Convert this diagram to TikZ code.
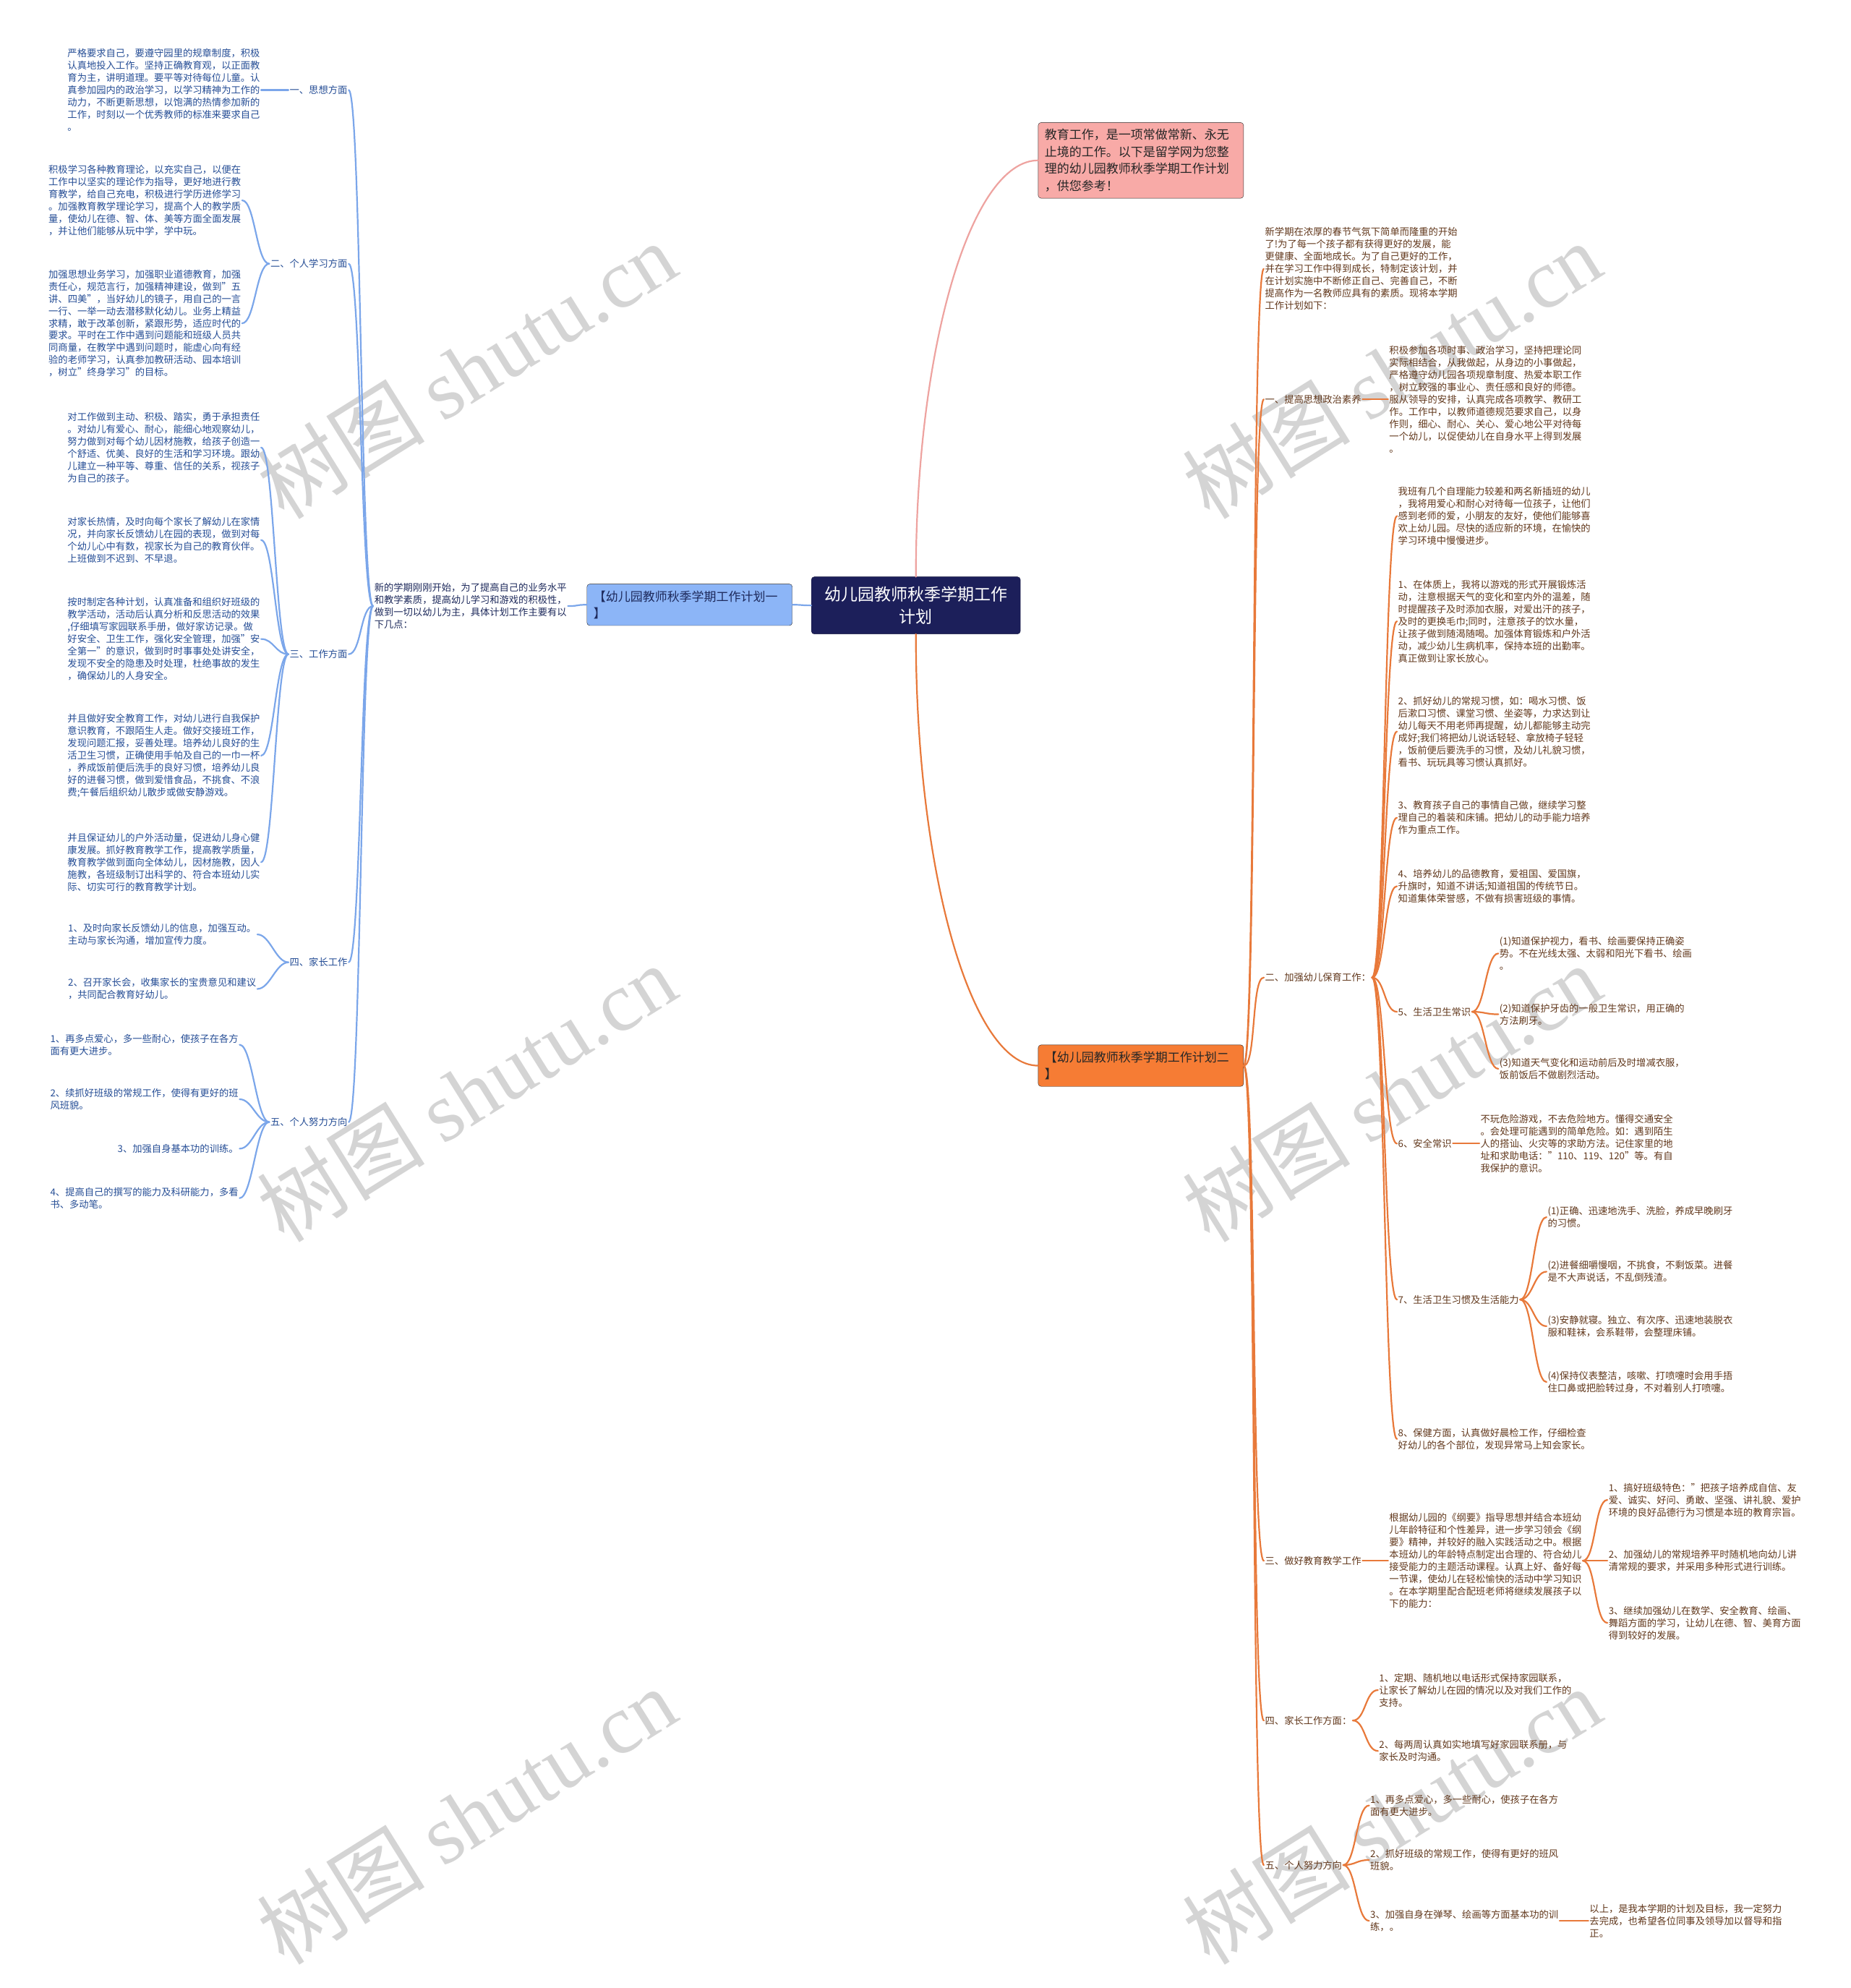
\documentclass[tikz,border=0pt]{standalone}
\usepackage{fontspec}
\setmainfont{Noto Sans CJK SC}
\newfontfamily\wmfont{Liberation Serif}
\definecolor{titlebg}{RGB}{28,31,90}
\definecolor{lboxbg}{RGB}{140,181,247}
\definecolor{lline}{RGB}{123,166,234}
\definecolor{ltext}{RGB}{38,78,150}
\definecolor{midtext}{RGB}{30,42,92}
\definecolor{pboxbg}{RGB}{248,170,167}
\definecolor{pline}{RGB}{238,163,160}
\definecolor{oboxbg}{RGB}{246,124,52}
\definecolor{oline}{RGB}{232,121,58}
\definecolor{rtext}{RGB}{98,56,28}
\definecolor{wmgray}{RGB}{212,212,212}

\begin{document}
\begin{tikzpicture}[x=1.7534pt, y=-1.7534pt, line cap=round,
    txt/.style={font=\fontsize{13.3}{17}\selectfont, align=left, inner sep=1.5pt},
    ln/.style={txt, anchor=east, text=ltext},
    rn/.style={txt, anchor=west, text=rtext},
    title/.style={fill=titlebg, draw=titlebg!70!black, rounded corners=4pt, text=white, align=center,
        font=\fontsize{23}{31}\selectfont, minimum width=289pt, minimum height=79pt},
    box/.style={draw=black!85, rounded corners=4pt, align=left, text width=266pt, inner sep=9pt,
        font=\fontsize{17}{23.5}\selectfont},
    llink/.style={draw=lline, line width=2.2pt, to path={.. controls +(-10,0) and +(10,0) .. (\tikztotarget)}},
    rlink/.style={draw=oline, line width=2.2pt, to path={.. controls +(10,0) and +(-10,0) .. (\tikztotarget)}},
    wm/.style={text=wmgray, rotate=32, font=\fontsize{116}{116}\selectfont}]

    \fill[white] (0,0) rectangle (1460,1568);
    \useasboundingbox (0,0) rectangle (1460,1568);

    \foreach \wx in {368,1098} {
        \foreach \wy in {292,862,1432} {
            \node[wm] at (\wx,\wy) {树图 {\wmfont shutu.cn}};
        }
    }

            \node[title] (t) at (722.5,477.5) {幼儿园教师秋季学期工作\\计划};
            \node[box, fill=lboxbg, text=midtext] (lb) at (544,477) {【幼儿园教师秋季学期工作计划一\\】};
            \node[box, fill=pboxbg, text=black!85, text width=266pt] (pk) at (900,126.5) {教育工作，是一项常做常新、永无\\止境的工作。以下是留学网为您整\\理的幼儿园教师秋季学期工作计划\\，供您参考！};
            \node[box, fill=oboxbg, text=black!85] (ob) at (900,840.5) {【幼儿园教师秋季学期工作计划二\\】};

            \node[ln, text=midtext] (mid) at (448,478) {新的学期刚刚开始，为了提高自己的业务水平\\和教学素质，提高幼儿学习和游戏的积极性，\\做到一切以幼儿为主，具体计划工作主要有以\\下几点：};

            \node[ln] (l1) at (275,71) {一、思想方面};
            \node[ln] (l2) at (275,208) {二、个人学习方面};
            \node[ln] (l3) at (275,516) {三、工作方面};
            \node[ln] (l4) at (275,759) {四、家长工作};
            \node[ln] (l5) at (275,885) {五、个人努力方向};

            \node[ln] (l1a) at (206,71) {严格要求自己，要遵守园里的规章制度，积极\\认真地投入工作。坚持正确教育观，以正面教\\育为主，讲明道理。要平等对待每位儿童。认\\真参加园内的政治学习，以学习精神为工作的\\动力，不断更新思想，以饱满的热情参加新的\\工作，时刻以一个优秀教师的标准来要求自己\\。};
            \node[ln] (l2a) at (191,158) {积极学习各种教育理论，以充实自己，以便在\\工作中以坚实的理论作为指导，更好地进行教\\育教学，给自己充电，积极进行学历进修学习\\。加强教育教学理论学习，提高个人的教学质\\量，使幼儿在德、智、体、美等方面全面发展\\，并让他们能够从玩中学，学中玩。};
            \node[ln] (l2b) at (191,255) {加强思想业务学习，加强职业道德教育，加强\\责任心，规范言行，加强精神建设，做到"五\\讲、四美"，当好幼儿的镜子，用自己的一言\\一行、一举一动去潜移默化幼儿。业务上精益\\求精，敢于改革创新，紧跟形势，适应时代的\\要求。平时在工作中遇到问题能和班级人员共\\同商量，在教学中遇到问题时，能虚心向有经\\验的老师学习，认真参加教研活动、园本培训\\，树立"终身学习"的目标。};
            \node[ln] (l3a) at (206,353) {对工作做到主动、积极、踏实，勇于承担责任\\。对幼儿有爱心、耐心，能细心地观察幼儿，\\努力做到对每个幼儿因材施教，给孩子创造一\\个舒适、优美、良好的生活和学习环境。跟幼\\儿建立一种平等、尊重、信任的关系，视孩子\\为自己的孩子。};
            \node[ln] (l3b) at (206,426) {对家长热情，及时向每个家长了解幼儿在家情\\况，并向家长反馈幼儿在园的表现，做到对每\\个幼儿心中有数，视家长为自己的教育伙伴。\\上班做到不迟到、不早退。};
            \node[ln] (l3c) at (206,504) {按时制定各种计划，认真准备和组织好班级的\\教学活动，活动后认真分析和反思活动的效果\\,仔细填写家园联系手册，做好家访记录。做\\好安全、卫生工作，强化安全管理，加强"安\\全第一"的意识，做到时时事事处处讲安全，\\发现不安全的隐患及时处理，杜绝事故的发生\\，确保幼儿的人身安全。};
            \node[ln] (l3d) at (206,596) {并且做好安全教育工作，对幼儿进行自我保护\\意识教育，不跟陌生人走。做好交接班工作，\\发现问题汇报，妥善处理。培养幼儿良好的生\\活卫生习惯，正确使用手帕及自己的一巾一杯\\，养成饭前便后洗手的良好习惯，培养幼儿良\\好的进餐习惯，做到爱惜食品，不挑食、不浪\\费;午餐后组织幼儿散步或做安静游戏。};
            \node[ln] (l3e) at (206,680) {并且保证幼儿的户外活动量，促进幼儿身心健\\康发展。抓好教育教学工作，提高教学质量，\\教育教学做到面向全体幼儿，因材施教，因人\\施教，各班级制订出科学的、符合本班幼儿实\\际、切实可行的教育教学计划。};
            \node[ln] (l4a) at (203,737) {1、及时向家长反馈幼儿的信息，加强互动。\\主动与家长沟通，增加宣传力度。};
            \node[ln] (l4b) at (203,780) {2、召开家长会，收集家长的宝贵意见和建议\\，共同配合教育好幼儿。};
            \node[ln] (l5a) at (189,824) {1、再多点爱心，多一些耐心，使孩子在各方\\面有更大进步。};
            \node[ln] (l5b) at (189,867) {2、续抓好班级的常规工作，使得有更好的班\\风班貌。};
            \node[ln] (l5c) at (189,906) {3、加强自身基本功的训练。};
            \node[ln] (l5d) at (189,945) {4、提高自己的撰写的能力及科研能力，多看\\书、多动笔。};

            \node[rn] (r0) at (997,212) {新学期在浓厚的春节气氛下简单而隆重的开始\\了!为了每一个孩子都有获得更好的发展，能\\更健康、全面地成长。为了自己更好的工作，\\并在学习工作中得到成长，特制定该计划，并\\在计划实施中不断修正自己、完善自己，不断\\提高作为一名教师应具有的素质。现将本学期\\工作计划如下：};
            \node[rn] (r1) at (997,315) {一、提高思想政治素养};
            \node[rn] (r1a) at (1095,315) {积极参加各项时事、政治学习，坚持把理论同\\实际相结合，从我做起，从身边的小事做起，\\严格遵守幼儿园各项规章制度、热爱本职工作\\，树立较强的事业心、责任感和良好的师德。\\服从领导的安排，认真完成各项教学、教研工\\作。工作中，以教师道德规范要求自己，以身\\作则，细心、耐心、关心、爱心地公平对待每\\一个幼儿，以促使幼儿在自身水平上得到发展\\。};
            \node[rn] (r2) at (997,771) {二、加强幼儿保育工作：};
            \node[rn] (r2a) at (1102,407) {我班有几个自理能力较差和两名新插班的幼儿\\，我将用爱心和耐心对待每一位孩子，让他们\\感到老师的爱，小朋友的友好，使他们能够喜\\欢上幼儿园。尽快的适应新的环境，在愉快的\\学习环境中慢慢进步。};
            \node[rn] (r2b) at (1102,490) {1、在体质上，我将以游戏的形式开展锻炼活\\动，注意根据天气的变化和室内外的温差，随\\时提醒孩子及时添加衣服，对爱出汗的孩子，\\及时的更换毛巾;同时，注意孩子的饮水量，\\让孩子做到随渴随喝。加强体育锻炼和户外活\\动，减少幼儿生病机率，保持本班的出勤率。\\真正做到让家长放心。};
            \node[rn] (r2c) at (1102,577) {2、抓好幼儿的常规习惯，如：喝水习惯、饭\\后漱口习惯、课堂习惯、坐姿等，力求达到让\\幼儿每天不用老师再提醒，幼儿都能够主动完\\成好;我们将把幼儿说话轻轻、拿放椅子轻轻\\，饭前便后要洗手的习惯，及幼儿礼貌习惯，\\看书、玩玩具等习惯认真抓好。};
            \node[rn] (r2d) at (1102,645) {3、教育孩子自己的事情自己做，继续学习整\\理自己的着装和床铺。把幼儿的动手能力培养\\作为重点工作。};
            \node[rn] (r2e) at (1102,699) {4、培养幼儿的品德教育，爱祖国、爱国旗，\\升旗时，知道不讲话;知道祖国的传统节日。\\知道集体荣誉感，不做有损害班级的事情。};
            \node[rn] (r2f) at (1102,798) {5、生活卫生常识};
            \node[rn] (f1) at (1182,752) {(1)知道保护视力，看书、绘画要保持正确姿\\势。不在光线太强、太弱和阳光下看书、绘画\\。};
            \node[rn] (f2) at (1182,800) {(2)知道保护牙齿的一般卫生常识，用正确的\\方法刷牙。};
            \node[rn] (f3) at (1182,843) {(3)知道天气变化和运动前后及时增减衣服，\\饭前饭后不做剧烈活动。};
            \node[rn] (r2g) at (1102,902) {6、安全常识};
            \node[rn] (g1) at (1167,902) {不玩危险游戏，不去危险地方。懂得交通安全\\。会处理可能遇到的简单危险。如：遇到陌生\\人的搭讪、火灾等的求助方法。记住家里的地\\址和求助电话："110、119、120"等。有自\\我保护的意识。};
            \node[rn] (r2h) at (1102,1025) {7、生活卫生习惯及生活能力};
            \node[rn] (h1) at (1220,960) {(1)正确、迅速地洗手、洗脸，养成早晚刷牙\\的习惯。};
            \node[rn] (h2) at (1220,1003) {(2)进餐细嚼慢咽，不挑食，不剩饭菜。进餐\\是不大声说话，不乱倒残渣。};
            \node[rn] (h3) at (1220,1046) {(3)安静就寝。独立、有次序、迅速地装脱衣\\服和鞋袜，会系鞋带，会整理床铺。};
            \node[rn] (h4) at (1220,1090) {(4)保持仪表整洁，咳嗽、打喷嚏时会用手捂\\住口鼻或把脸转过身，不对着别人打喷嚏。};
            \node[rn] (r2i) at (1102,1135) {8、保健方面，认真做好晨检工作，仔细检查\\好幼儿的各个部位，发现异常马上知会家长。};
            \node[rn] (r3) at (997,1231) {三、做好教育教学工作};
            \node[rn] (r3a) at (1095,1231) {根据幼儿园的《纲要》指导思想并结合本班幼\\儿年龄特征和个性差异，进一步学习领会《纲\\要》精神，并较好的融入实践活动之中。根据\\本班幼儿的年龄特点制定出合理的、符合幼儿\\接受能力的主题活动课程。认真上好、备好每\\一节课，使幼儿在轻松愉快的活动中学习知识\\。在本学期里配合配班老师将继续发展孩子以\\下的能力：};
            \node[rn] (s1) at (1268,1183) {1、搞好班级特色："把孩子培养成自信、友\\爱、诚实、好问、勇敢、坚强、讲礼貌、爱护\\环境的良好品德行为习惯是本班的教育宗旨。};
            \node[rn] (s2) at (1268,1231) {2、加强幼儿的常规培养平时随机地向幼儿讲\\清常规的要求，并采用多种形式进行训练。};
            \node[rn] (s3) at (1268,1280) {3、继续加强幼儿在数学、安全教育、绘画、\\舞蹈方面的学习，让幼儿在德、智、美育方面\\得到较好的发展。};
            \node[rn] (r4) at (997,1357) {四、家长工作方面：};
            \node[rn] (r4a) at (1087,1333) {1、定期、随机地以电话形式保持家园联系，\\让家长了解幼儿在园的情况以及对我们工作的\\支持。};
            \node[rn] (r4b) at (1087,1381) {2、每两周认真如实地填写好家园联系册，与\\家长及时沟通。};
            \node[rn] (r5) at (997,1471) {五、个人努力方向};
            \node[rn] (r5a) at (1080,1424) {1、再多点爱心，多一些耐心，使孩子在各方\\面有更大进步。};
            \node[rn] (r5b) at (1080,1467) {2、抓好班级的常规工作，使得有更好的班风\\班貌。};
            \node[rn] (r5c) at (1080,1515) {3、加强自身在弹琴、绘画等方面基本功的训\\练，。};
            \node[rn] (r6) at (1253,1515) {以上，是我本学期的计划及目标，我一定努力\\去完成，也希望各位同事及领导加以督导和指\\正。};

            \path
                (t.west) edge[llink] (lb.east)
                (lb.west) edge[llink] (mid.east)
                (mid.west) edge[llink] (l1.east)
                (mid.west) edge[llink] (l2.east)
                (mid.west) edge[llink] (l3.east)
                (mid.west) edge[llink] (l4.east)
                (mid.west) edge[llink] (l5.east)
                (l1.west) edge[llink] (l1a.east)
                (l2.west) edge[llink] (l2a.east)
                (l2.west) edge[llink] (l2b.east)
                (l3.west) edge[llink] (l3a.east)
                (l3.west) edge[llink] (l3b.east)
                (l3.west) edge[llink] (l3c.east)
                (l3.west) edge[llink] (l3d.east)
                (l3.west) edge[llink] (l3e.east)
                (l4.west) edge[llink] (l4a.east)
                (l4.west) edge[llink] (l4b.east)
                (l5.west) edge[llink] (l5a.east)
                (l5.west) edge[llink] (l5b.east)
                (l5.west) edge[llink] (l5c.east)
                (l5.west) edge[llink] (l5d.east)
                ;

            \path
                (t.north) edge[draw=pline, line width=2.2pt, to path={.. controls +(0,-181) and +(-53,0) .. (\tikztotarget)}] (pk.west)
                (t.south) edge[draw=oline, line width=2.2pt, to path={.. controls +(0,187) and +(-53,0) .. (\tikztotarget)}] (ob.west)
                (ob.east) edge[rlink] (r0.west)
                (ob.east) edge[rlink] (r1.west)
                (ob.east) edge[rlink] (r2.west)
                (ob.east) edge[rlink] (r3.west)
                (ob.east) edge[rlink] (r4.west)
                (ob.east) edge[rlink] (r5.west)
                (r1.east) edge[rlink] (r1a.west)
                (r2.east) edge[rlink] (r2a.west)
                (r2.east) edge[rlink] (r2b.west)
                (r2.east) edge[rlink] (r2c.west)
                (r2.east) edge[rlink] (r2d.west)
                (r2.east) edge[rlink] (r2e.west)
                (r2.east) edge[rlink] (r2f.west)
                (r2.east) edge[rlink] (r2g.west)
                (r2.east) edge[rlink] (r2h.west)
                (r2.east) edge[rlink] (r2i.west)
                (r2f.east) edge[rlink] (f1.west)
                (r2f.east) edge[rlink] (f2.west)
                (r2f.east) edge[rlink] (f3.west)
                (r2g.east) edge[rlink] (g1.west)
                (r2h.east) edge[rlink] (h1.west)
                (r2h.east) edge[rlink] (h2.west)
                (r2h.east) edge[rlink] (h3.west)
                (r2h.east) edge[rlink] (h4.west)
                (r3.east) edge[rlink] (r3a.west)
                (r3a.east) edge[rlink] (s1.west)
                (r3a.east) edge[rlink] (s2.west)
                (r3a.east) edge[rlink] (s3.west)
                (r4.east) edge[rlink] (r4a.west)
                (r4.east) edge[rlink] (r4b.west)
                (r5.east) edge[rlink] (r5a.west)
                (r5.east) edge[rlink] (r5b.west)
                (r5.east) edge[rlink] (r5c.west)
                (r5c.east) edge[rlink] (r6.west)
                ;
\end{tikzpicture}
\end{document}
